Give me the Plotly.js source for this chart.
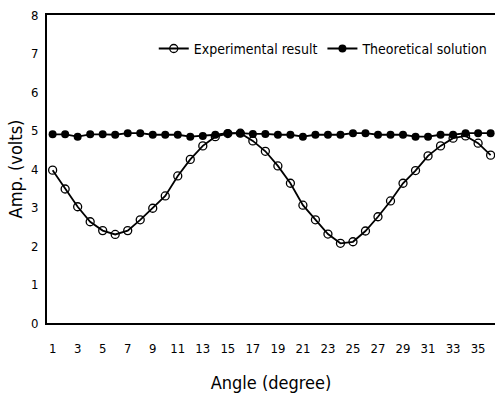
<!DOCTYPE html>
<html><head><meta charset="utf-8">
<script src="https://cdn.plot.ly/plotly-3.0.1.min.js"></script>
<style>body{margin:0;background:#fff}#c{width:496px;height:402px}</style>
</head><body><div id="c"></div>
<script>
const angles = [1,2,3,4,5,6,7,8,9,10,11,12,13,14,15,16,17,18,19,20,21,22,23,24,25,26,27,28,29,30,31,32,33,34,35,36];
const experimental = [3.97,3.48,3.02,2.63,2.40,2.30,2.40,2.68,2.98,3.30,3.82,4.25,4.60,4.84,4.92,4.93,4.73,4.46,4.08,3.63,3.06,2.68,2.31,2.07,2.11,2.39,2.76,3.17,3.63,3.96,4.34,4.60,4.80,4.86,4.67,4.36];
const theoretical = [4.90,4.90,4.84,4.90,4.90,4.89,4.93,4.93,4.89,4.89,4.89,4.84,4.86,4.89,4.93,4.93,4.91,4.91,4.89,4.89,4.84,4.89,4.89,4.89,4.93,4.93,4.89,4.89,4.89,4.84,4.84,4.89,4.89,4.93,4.93,4.93];
const xTicks = [1,3,5,7,9,11,13,15,17,19,21,23,25,27,29,31,33,35];
const yTicks = [0,1,2,3,4,5,6,7,8];
const FONT = '"DejaVu Sans Condensed", "Liberation Sans Narrow", "Liberation Sans", sans-serif';

const data = [
  {x: angles, y: experimental, name: 'Experimental result', type: 'scatter', mode: 'lines+markers',
   line: {color: '#000', width: 1.8},
   marker: {symbol: 'circle-open', size: 8, color: '#000', line: {width: 1.3, color: '#000'}}},
  {x: angles, y: theoretical, name: 'Theoretical solution', type: 'scatter', mode: 'lines+markers',
   line: {color: '#000', width: 1.8},
   marker: {symbol: 'circle', size: 8, color: '#000'}}
];
const layout = {
  width: 496, height: 402,
  margin: {l: 47, r: 1, t: 15, b: 79},
  paper_bgcolor: '#fff', plot_bgcolor: '#fff',
  font: {family: FONT, color: '#000', size: 13},
  showlegend: true,
  legend: {orientation: 'h', x: 0.995, xanchor: 'right', y: 0.89, yanchor: 'middle',
           bgcolor: 'rgba(255,255,255,0)', font: {family: FONT, size: 14, color: '#000'},
           itemwidth: 30, tracegroupgap: 0},
  xaxis: {range: [0.55, 36.35], tickvals: xTicks, ticktext: xTicks.map(String), showgrid: false, zeroline: false,
          showline: true, linecolor: '#000', linewidth: 2, mirror: true, ticks: 'outside', ticklen: 12, tickcolor: 'rgba(0,0,0,0)',
          tickfont: {family: FONT, size: 13},
          title: {text: 'Angle (degree)', font: {family: FONT, size: 18}, standoff: 22}},
  yaxis: {range: [0, 8], tickvals: yTicks, ticktext: yTicks.map(String), showgrid: false, zeroline: false,
          showline: true, linecolor: '#000', linewidth: 2, ticks: 'outside', ticklen: 4, tickcolor: 'rgba(0,0,0,0)',
          tickfont: {family: FONT, size: 13},
          title: {text: 'Amp. (volts)', font: {family: FONT, size: 18}, standoff: 4}}
};
Plotly.newPlot('c', data, layout, {displayModeBar: false, staticPlot: true});
</script></body></html>
